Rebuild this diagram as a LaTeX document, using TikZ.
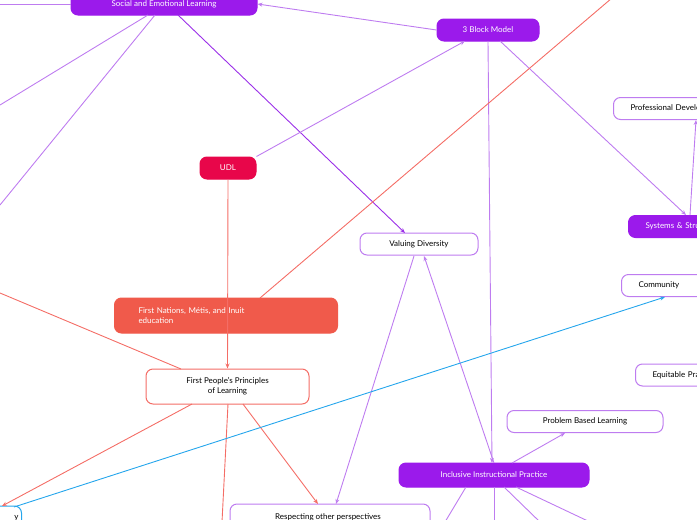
\documentclass[tikz,border=0pt]{standalone}
\usepackage{fontspec}
\setmainfont{Lato}
\usetikzlibrary{arrows.meta}
\definecolor{pf}{HTML}{9B1AEB}
\definecolor{pl}{HTML}{BE7CF0}
\definecolor{pd}{HTML}{9B30E8}
\definecolor{rf}{HTML}{F05A4B}
\definecolor{rl}{HTML}{F46D66}
\definecolor{cr}{HTML}{E8064A}
\definecolor{bl}{HTML}{25A6EC}
\tikzset{
 box/.style={rounded corners=7pt,minimum height=22pt,font=\fontsize{8}{10}\selectfont,inner sep=3pt,line width=1pt},
 fillp/.style={box,fill=pf,draw=pf,text=white},
 outp/.style={box,fill=white,draw=pl,text=black},
 side/.style={anchor=west,text width=110pt,align=left,inner xsep=17pt},
 pe/.style={pl,line width=0.9pt},
 re/.style={rl,line width=0.9pt},
 ar/.style={-{Stealth[length=5pt,width=4pt]}}
}
\begin{document}
\begin{tikzpicture}[x=1pt,y=-1pt]
\useasboundingbox (0,0) rectangle (697,520);
\clip (0,0) rectangle (697,520);
\coordinate (l1) at (0,105);
\coordinate (l2) at (0,205);
\coordinate (l3) at (0,4);
\coordinate (l4) at (0,293);
\coordinate (tr) at (612,-2);
\coordinate (d1) at (445,522);
\coordinate (d2) at (494,522);
\coordinate (d3) at (540,522);
\coordinate (d4) at (590,522);
\coordinate (d5) at (222,522);
\node[fillp,minimum width=186pt] (sel) at (164,4) {Social and Emotional Learning};
\node[fillp,minimum width=102pt] (tbm) at (488,30) {3 Block Model};
\node[box,fill=cr,draw=cr,text=white,minimum width=56pt] (udl) at (228,168) {UDL};
\node[outp,minimum width=118pt] (vd) at (419,244) {Valuing Diversity};
\node[box,fill=rf,draw=rf,text=white,minimum height=35pt,align=left,text width=175pt,inner xsep=24pt,anchor=west] (fn) at (114,315.5) {First Nations, Métis, and Inuit\\education};
\node[box,fill=white,draw=rl,minimum width=163pt,minimum height=35pt,align=center] (fp) at (227.5,386.5) {First People's Principles\\of Learning};
\node[outp,minimum width=200pt,minimum height=26pt] (rp) at (330,517) {Respecting other perspectives\\\phantom{x}};
\node[fillp,minimum width=190pt,minimum height=24pt] (iip) at (494,475) {Inclusive Instructional Practice};
\node[outp,minimum width=156pt] (pbl) at (585,421.5) {Problem Based Learning};
\node[outp,side] (pd) at (613,108.5) {Professional Development};
\node[fillp,side] (sys) at (628,226.5) {Systems \& Structures};
\node[outp,side] (com) at (621,285.5) {Community};
\node[outp,side] (eq) at (635,375) {Equitable Practice};
\node[box,fill=white,draw=bl,text width=52pt,align=right,anchor=east,minimum height=24pt] (yy) at (22,518) {y};
% edges
\draw[pe,ar] (tbm.west) -- (sel.east);
\draw[pd,line width=0.9pt,ar] (178,15) -- (405,233);
\draw[pe] (148,15) -- (l1);
\draw[pe] (155,15) -- (l2);
\draw[pe] (sel.west) -- (l3);
\draw[pe,ar] (udl.north east) -- (465,41);
\draw[pe,ar] (488,41) -- (492,463);
\draw[pe,ar] (500,41) -- (686,215);
\draw[pe,ar] (690,215) -- (696,120);
\draw[pe,ar] (414,256) -- (336,504);
\draw[pe,ar] (494,463) -- (424,256);
\draw[pe,ar] (512,463) -- (565,433);
\draw[pe] (466,487) -- (d1);
\draw[pe] (494,487) -- (d2);
\draw[pe] (504,487) -- (d3);
\draw[pe] (516,487) -- (d4);
\draw[re,ar] (udl.south) -- (fp.north);
\draw[re] (260,298) -- (tr);
\draw[re] (l4) -- (181,369);
\draw[re,ar] (192,404) -- (2,506);
\draw[re,ar] (243,404) -- (318,504);
\draw[re] (228,404) -- (d5);
\draw[bl,line width=0.9pt,ar] (14,507) -- (665,297);
\end{tikzpicture}
\end{document}
